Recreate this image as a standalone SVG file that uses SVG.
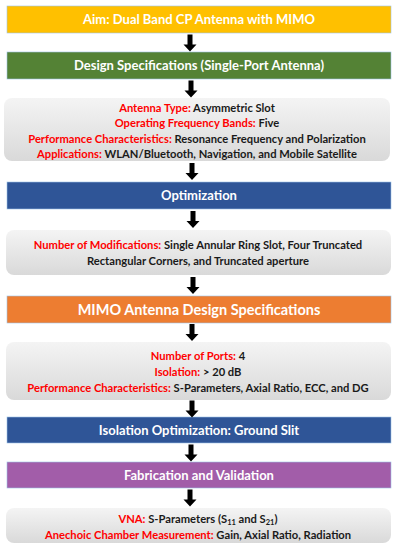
<svg xmlns="http://www.w3.org/2000/svg" width="399" height="550" viewBox="0 0 399 550">
<defs>
<linearGradient id="g" x1="0" y1="0" x2="0" y2="1">
<stop offset="0" stop-color="#f4f4f4"/>
<stop offset="1" stop-color="#d9d9d9"/>
</linearGradient>
<path id="arr" d="M-2.5 0 H2.5 V10 H6.5 L0 17 L-6.5 10 H-2.5 Z" fill="#000"/>
</defs>
<style>
.hd{font-family:Lato,"Liberation Sans",sans-serif;font-weight:bold;font-size:13px;fill:#fff;text-anchor:middle}
.bx{stroke:#9dc3e6;stroke-width:0.6}
.gb{fill:url(#g);stroke:none}
.tx{font-family:Lato,"Liberation Sans",sans-serif;font-weight:bold;font-size:11.2px;fill:#1a1a1a;text-anchor:middle}
.r{fill:#ff0000}
</style>
<rect width="399" height="550" fill="#fff"/>
<g id="aim"><rect class="bx" x="7" y="6" width="384" height="27" fill="#ffc000"/><text class="hd" x="199" y="24.2">Aim: Dual Band CP Antenna with MIMO</text></g>
<g id="design"><rect class="bx" x="7" y="52" width="384" height="27" fill="#548235"/><text class="hd" x="199" y="70.2">Design Specifications (Single-Port Antenna)</text></g>
<g id="spec1"><rect class="gb" x="4" y="98" width="386" height="63" rx="8"/>
<text class="tx" x="197" y="111.5"><tspan class="r">Antenna Type:</tspan> Asymmetric Slot</text>
<text class="tx" x="197" y="127"><tspan class="r">Operating Frequency Bands:</tspan> Five</text>
<text class="tx" x="197" y="142.5"><tspan class="r">Performance Characteristics:</tspan> Resonance Frequency and Polarization</text>
<text class="tx" x="197" y="158"><tspan class="r">Applications:</tspan> WLAN/Bluetooth, Navigation, and Mobile Satellite</text></g>
<g id="opt"><rect class="bx" x="7" y="182" width="384" height="27" fill="#2f5597"/><text class="hd" x="199" y="200.2">Optimization</text></g>
<g id="mods"><rect class="gb" x="6" y="230" width="385" height="45" rx="8"/>
<text class="tx" x="198" y="248.5"><tspan class="r">Number of Modifications:</tspan> Single Annular Ring Slot, Four Truncated</text>
<text class="tx" x="198" y="265">Rectangular Corners, and Truncated aperture</text></g>
<g id="mimo"><rect class="bx" x="7" y="296" width="384" height="27" fill="#ed7d31"/><text class="hd" x="199" y="314.6" style="font-size:14.5px">MIMO Antenna Design Specifications</text></g>
<g id="spec2"><rect class="gb" x="6" y="342" width="385" height="58" rx="8"/>
<text class="tx" x="198" y="359.5"><tspan class="r">Number of Ports:</tspan> 4</text>
<text class="tx" x="198" y="375.5"><tspan class="r">Isolation:</tspan> &gt; 20 dB</text>
<text class="tx" x="198" y="391.5"><tspan class="r">Performance Characteristics:</tspan> S-Parameters, Axial Ratio, ECC, and DG</text></g>
<g id="iso"><rect class="bx" x="7" y="417" width="384" height="26" fill="#2f5597"/><text class="hd" x="199" y="434.7">Isolation Optimization: Ground Slit</text></g>
<g id="fab"><rect class="bx" x="7" y="462" width="384" height="26" fill="#a25da9"/><text class="hd" x="199" y="479.7">Fabrication and Validation</text></g>
<g id="meas"><rect class="gb" x="6" y="508" width="385" height="35" rx="8"/>
<text class="tx" x="198" y="523"><tspan class="r">VNA:</tspan> S-Parameters (S<tspan font-size="7.5" dy="2">11</tspan><tspan dy="-2"> and S</tspan><tspan font-size="7.5" dy="2">21</tspan><tspan dy="-2">)</tspan></text>
<text class="tx" x="198" y="538.5"><tspan class="r">Anechoic Chamber Measurement:</tspan> Gain, Axial Ratio, Radiation</text></g>
<g id="connectors">
<use href="#arr" x="190" y="34.5"/>
<use href="#arr" x="191" y="80.5"/>
<use href="#arr" x="192" y="163"/>
<use href="#arr" x="193" y="211"/>
<use href="#arr" x="193" y="277"/>
<use href="#arr" x="192" y="324"/>
<use href="#arr" x="192" y="400.5"/>
<use href="#arr" x="191" y="444.5"/>
<use href="#arr" x="190" y="489.5"/>
</g>
</svg>
